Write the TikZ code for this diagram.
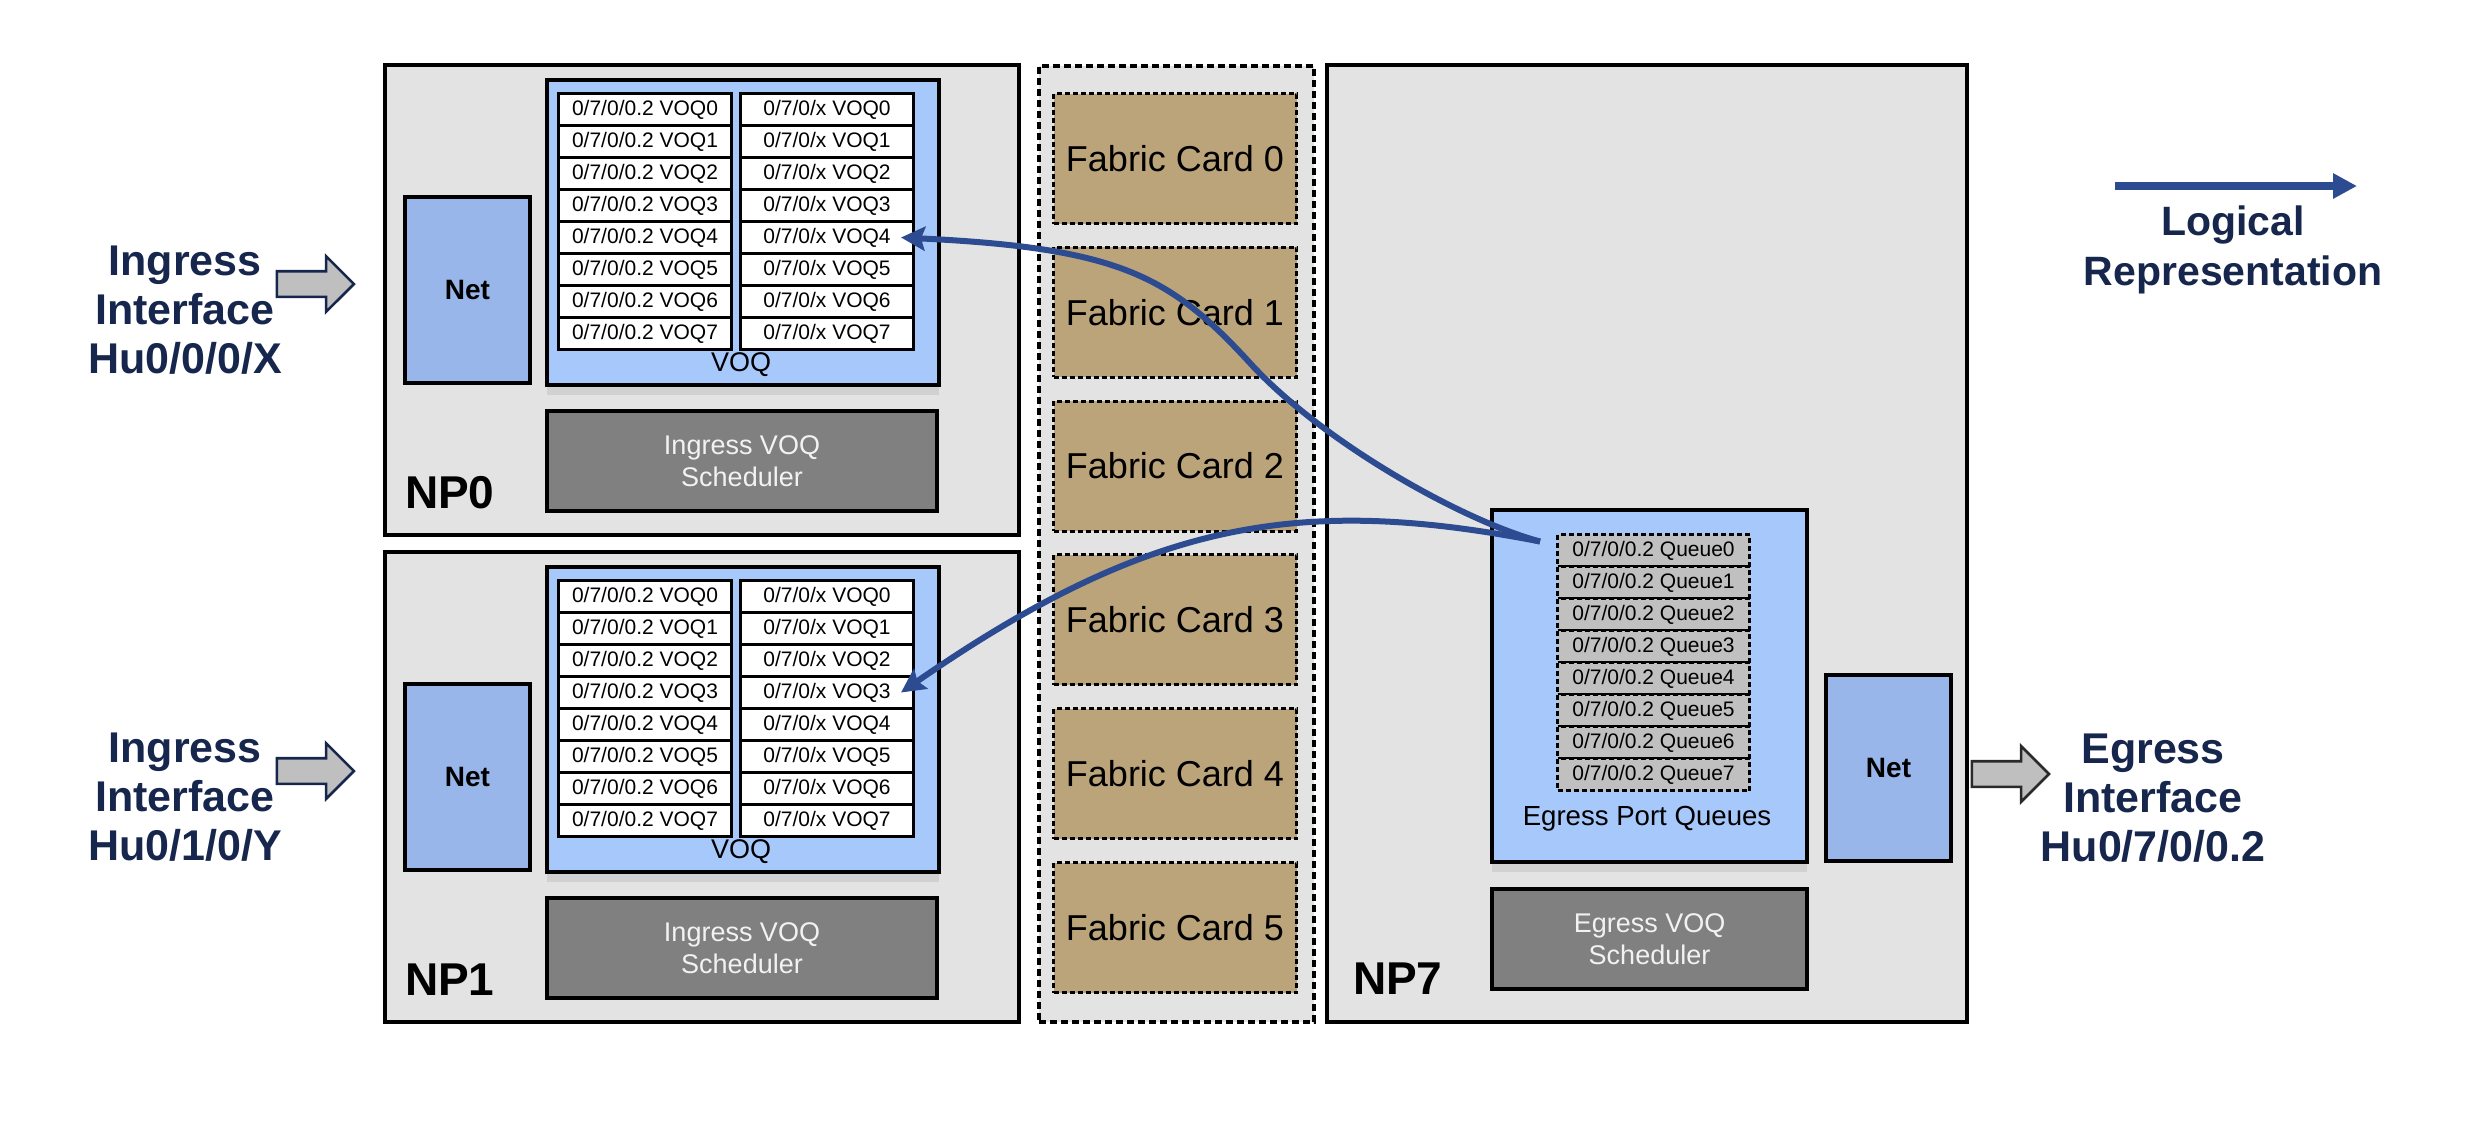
\documentclass[tikz,border=0pt]{standalone}
\usepackage{fontspec}
\setmainfont{Liberation Sans}
\usetikzlibrary{arrows.meta,shapes.arrows,shadows}

\definecolor{npgray}{HTML}{E3E3E3}
\definecolor{voqblue}{HTML}{A6C8FA}
\definecolor{netblue}{HTML}{98B6EA}
\definecolor{schgray}{HTML}{808080}
\definecolor{schtext}{HTML}{F2F2F2}
\definecolor{fabtan}{HTML}{BBA479}
\definecolor{qgray}{HTML}{C0C0C0}
\definecolor{navy}{HTML}{16264C}
\definecolor{flowblue}{HTML}{2C4B91}
\definecolor{arrgray}{HTML}{BFBFBF}
\definecolor{arrdark}{HTML}{2A2A2A}

\begin{document}
\begin{tikzpicture}[x=0.5pt,y=-0.5pt,
    frame/.style={draw, line width=2pt, anchor=north west, inner sep=0pt},
    npbox/.style={frame, fill=npgray, minimum width=317pt, minimum height=235pt},
    netbox/.style={frame, fill=netblue, minimum width=62.5pt, minimum height=93pt, font=\fontsize{14}{16}\selectfont\bfseries},
    voqbox/.style={frame, fill=voqblue, minimum width=196pt, minimum height=152.5pt,
        drop shadow={shadow xshift=0pt, shadow yshift=-5pt, opacity=.18}},
    voqcell/.style={draw, line width=1.5pt, fill=white, anchor=north west, inner sep=0pt,
        minimum width=86.5pt, minimum height=16pt, font=\fontsize{10.5}{12}\selectfont},
    qcell/.style={voqcell, fill=qgray, dash pattern=on 2.5pt off 1.5pt, minimum width=96pt},
    schedbox/.style={frame, fill=schgray, text=schtext, align=center, minimum height=50pt,
        font=\fontsize{13.5}{16}\selectfont},
    fabframe/.style={draw, fill=npgray, line width=1.8pt, dash pattern=on 3.5pt off 2pt,
        anchor=north west, minimum width=137.5pt, minimum height=478pt},
    fabcard/.style={draw, fill=fabtan, line width=1.5pt, dash pattern=on 2.5pt off 1.5pt,
        anchor=north west, inner sep=0pt, minimum width=121.5pt, minimum height=65pt,
        font=\fontsize{18}{20}\selectfont},
    nplabel/.style={anchor=base west, font=\fontsize{23}{26}\selectfont\bfseries},
    iflabel/.style={text=navy, align=center, font=\fontsize{21.5}{24.5}\selectfont\bfseries},
    fatarrow/.style={single arrow, fill=arrgray, line width=1.3pt, inner xsep=0pt, inner ysep=5.75pt,
        minimum height=38.5pt, single arrow head extend=7.5pt},
    flow/.style={draw=flowblue, line width=3pt, -{Stealth[length=12pt,width=12pt,inset=2pt]}}
]
\useasboundingbox (0,0) rectangle (2466,1130);

\foreach \n/\dy/\slot/\port in {0/0/0/X,1/487/1/Y}{
    \node[npbox] (np\n) at (383,63+\dy) {};
    \node[netbox] (net\n) at (403,195+\dy) {Net};
    \node[voqbox] (voq\n) at (545,78+\dy) {};
    \foreach \k in {0,...,7}{
        \node[voqcell] (l\n-\k) at (557,92+\dy+32*\k) {0/7/0/0.2 VOQ\k};
        \node[voqcell] (r\n-\k) at (739,92+\dy+32*\k) {0/7/0/x VOQ\k};
    }
    \node[anchor=base, font=\fontsize{13.5}{16}\selectfont] (voqlbl\n) at (741,371+\dy) {VOQ};
    \node[schedbox, minimum width=195pt] (sch\n) at (545,409+\dy) {Ingress VOQ\\Scheduler};
    \node[nplabel] (nplbl\n) at (398,508+\dy) {NP\n};
    \node[iflabel] (in\n) at (185,310+\dy) {Ingress\\Interface\\Hu0/\slot/0/\port};
    \node[fatarrow, draw=navy] (inarr\n) at (309,284+\dy) {};
}

\node[fabframe] (fab) at (1037,64) {};
\foreach \k in {0,...,5}
    \node[fabcard] (fc\k) at (1052,92+153.8*\k) {Fabric Card \k};

\node[npbox, minimum width=320pt, minimum height=478.5pt] (np7) at (1325,63) {};
\node[voqbox, minimum width=157.5pt, minimum height=176pt] (epq) at (1490,508) {};
\foreach \k in {0,...,7}
    \node[qcell] (q\k) at (1556,533+32*\k) {0/7/0/0.2 Queue\k};
\node[anchor=base, font=\fontsize{13.8}{16}\selectfont] (epqlbl) at (1647,825) {Egress Port Queues};
\node[netbox] (net7) at (1824,673) {Net};
\node[schedbox, minimum width=157.5pt] (sch7) at (1490,887) {Egress VOQ\\Scheduler};
\node[nplabel] (nplbl7) at (1346,994) {NP7};
\node[fatarrow, draw=arrdark] (outarr) at (2004,774) {};
\node[iflabel] (out) at (2153,798) {Egress\\Interface\\Hu0/7/0/0.2};

\coordinate (lr0) at (2115,186);
\coordinate (lr1) at (2357,186);
\draw[flow, line width=4pt, -{Triangle[length=12pt,width=12pt]}] (lr0) -- (lr1);
\node[iflabel, font=\fontsize{20.5}{25}\selectfont\bfseries] (lrlbl) at (2233,250) {Logical\\Representation};

\coordinate (qsrc) at ([xshift=-8pt,yshift=4.5pt]q0.west);
\draw[flow] (qsrc) .. controls (1460,520) and (1320,440) .. (1250,363)
    .. controls (1170,276) and (1120,248) .. ([xshift=-7pt]r0-4.east);
\draw[flow] (qsrc) .. controls (1300,495) and (1150,520) .. ([xshift=-7pt]r1-3.east);
\end{tikzpicture}
\end{document}
